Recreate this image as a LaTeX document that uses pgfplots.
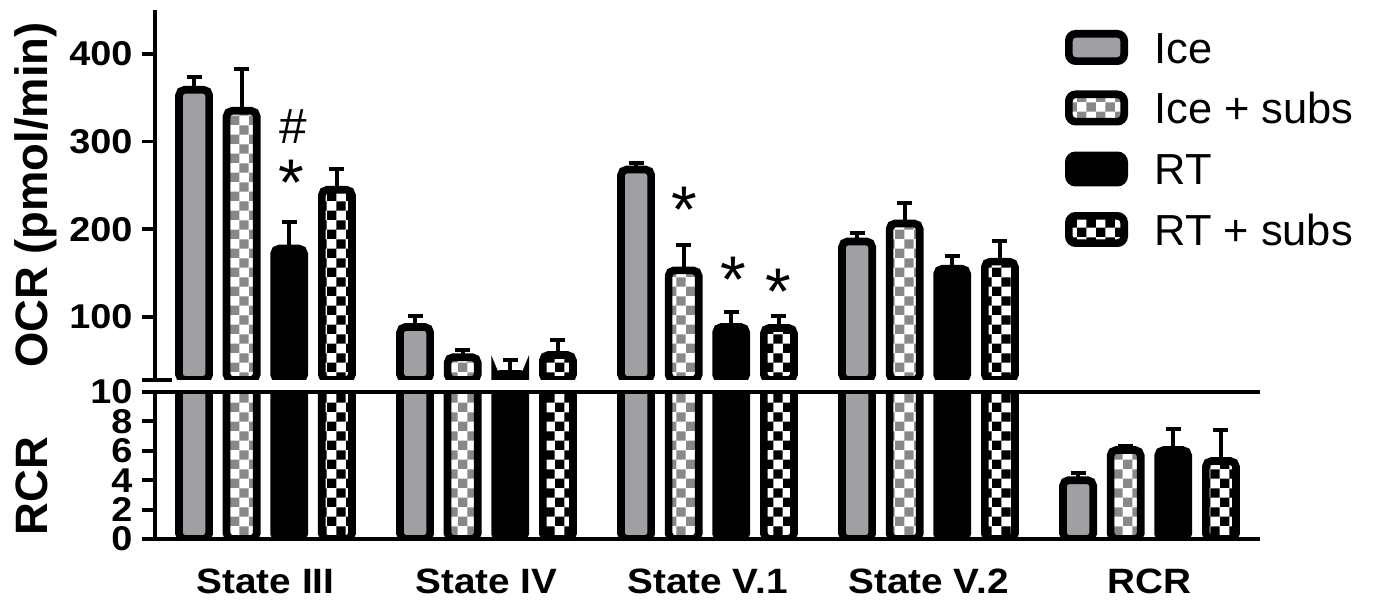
\documentclass[border=0pt]{standalone}
\usepackage{pgfplots}
\pgfplotsset{compat=1.18}
\usepackage{pgfplotstable}
\usetikzlibrary{patterns}
\usepackage{fontspec}
\setmainfont{Liberation Sans}
\newfontfamily\stretchfont{Liberation Sans}[FakeStretch=1.1]

\definecolor{icegray}{RGB}{160,160,164}
\definecolor{chkgray}{RGB}{136,136,136}

\pgfdeclarepatternformonly{chk}{\pgfpointorigin}{\pgfqpoint{7pt}{7pt}}{\pgfqpoint{7pt}{7pt}}{%
  \pgfpathrectangle{\pgfpointorigin}{\pgfqpoint{3.5pt}{3.5pt}}%
  \pgfpathrectangle{\pgfqpoint{3.5pt}{3.5pt}}{\pgfqpoint{3.5pt}{3.5pt}}%
  \pgfusepath{fill}}

% x: 0 State III, 1 State IV, 2 State V.1, 3 State V.2 (OCR, pmol/min), 4 RCR (ratio)
\pgfplotstableread{
x y e
0 359 14
1 88.5 12.5
2 268 7
3 186 10
4 4.0 0.5
}\tIce
\pgfplotstableread{
x y e
0 335 48
1 54 8
2 153 29
3 206.5 23
4 6.05 0.27
}\tIceSubs
\pgfplotstableread{
x y e
0 178 30
1 35 16
2 88.5 17
3 155 14
4 6.05 1.45
}\tRT
\pgfplotstableread{
x y e
0 245 24
1 56.5 17
2 87.4 14
3 163 23
4 5.3 2.1
}\tRTSubs

\tikzset{
  fIce/.style={draw=black, fill=icegray, line width=2.8pt},
  fIceSubs/.style={draw=black, pattern=chk, pattern color=chkgray, line width=2.8pt},
  fRT/.style={draw=black, fill=black, line width=2.8pt},
  fRTSubs/.style={draw=black, pattern=chk, pattern color=black, line width=2.8pt},
}

\pgfplotsset{
  barcommon/.style={ybar, bar width=0.136, clip=true,
    error bars/y dir=plus, error bars/y explicit,
    error bars/error bar style={line width=1.4pt, black, rounded corners=0pt},
    error bars/error mark options={rotate=90, mark size=2.75pt, line width=1.45pt, black},
    /pgf/number format/assume math mode=true,
    tick align=outside, major tick length=4.7pt,
    ytick style={line width=1.45pt, black},
    yticklabel style={font=\stretchfont\bfseries\fontsize{12.5}{14}\selectfont, inner sep=0pt, xshift=-3.3pt},
    axis line style={line width=1.8pt, -},
  },
  sIce/.style={fIce, rounded corners=2pt},
  sIceSubs/.style={fIceSubs, rounded corners=2pt},
  sRT/.style={fRT, rounded corners=2pt},
  sRTSubs/.style={fRTSubs, rounded corners=2pt},
}

\begin{document}
\begin{tikzpicture}
\path[use as bounding box] (0pt,0pt) rectangle (500.36pt,218.91pt);

% upper panel (OCR)
\begin{axis}[barcommon,
  at={(56.36pt,80.73pt)}, anchor=south west, scale only axis,
  width=401.82pt, height=134.55pt,
  xmin=-0.5, xmax=4.5, ymin=28, ymax=450,
  axis x line=none, axis y line*=left,
  ytick={100,200,300,400},
  restrict x to domain=-0.5:3.5,
]
\addplot[sIce, bar shift=-0.323] table[x=x, y=y, y error=e] {\tIce};
\addplot[sIceSubs, bar shift=-0.108] table[x=x, y=y, y error=e] {\tIceSubs};
\addplot[sRT, bar shift=0.107] table[x=x, y=y, y error=e] {\tRT};
\addplot[sRTSubs, bar shift=0.323] table[x=x, y=y, y error=e] {\tRTSubs};
\node[anchor=base, font=\fontsize{18}{20}\selectfont, inner sep=0pt] at ([yshift=-6.3pt]axis cs:0.127,317) {\#};
\node[anchor=base, font=\fontsize{24}{26}\selectfont, inner sep=0pt] at ([yshift=-12pt]axis cs:0.115,265) {*};
\node[anchor=base, font=\fontsize{24}{26}\selectfont, inner sep=0pt] at ([yshift=-12pt]axis cs:1.894,234) {*};
\node[anchor=base, font=\fontsize{24}{26}\selectfont, inner sep=0pt] at ([yshift=-12pt]axis cs:2.118,154) {*};
\node[anchor=base, font=\fontsize{24}{26}\selectfont, inner sep=0pt] at ([yshift=-12pt]axis cs:2.321,140) {*};
\end{axis}

% lower panel (RCR)
\begin{axis}[barcommon,
  at={(56.36pt,22.91pt)}, anchor=south west, scale only axis,
  width=401.82pt, height=53.45pt,
  xmin=-0.5, xmax=4.5, ymin=0, ymax=10,
  axis x line*=bottom, axis y line*=left,
  ytick={0,2,4,6,8,10},
  xtick={0,1,2,3,4},
  xticklabels={State III, State IV, State V.1, State V.2, RCR},
  xtick style={draw=none, /pgfplots/major tick length=0pt},
  xticklabel style={font=\stretchfont\bfseries\fontsize{12.8}{15}\selectfont, inner sep=0pt, yshift=-5.8pt},
  axis on top,
]
\addplot[sIce, bar shift=-0.323] table[x=x, y=y, y error=e] {\tIce};
\addplot[sIceSubs, bar shift=-0.108] table[x=x, y=y, y error=e] {\tIceSubs};
\addplot[sRT, bar shift=0.107] table[x=x, y=y, y error=e] {\tRT};
\addplot[sRTSubs, bar shift=0.323] table[x=x, y=y, y error=e] {\tRTSubs};
\end{axis}

% axis break marker and top line of the lower panel
\draw[line width=1.45pt] (51.66pt,80.73pt) -- (62.5pt,80.73pt);
\draw[line width=1.3pt] (56.36pt,76.36pt) -- (458.18pt,76.36pt);

% legend
\begin{scope}[rounded corners=2.5pt]
\draw[fIce]     (388.67pt,196.68pt) rectangle (408.78pt,206.60pt);
\draw[fIceSubs] (388.67pt,174.68pt) rectangle (408.78pt,184.60pt);
\draw[fRT]      (388.67pt,152.49pt) rectangle (408.78pt,162.41pt);
\draw[fRTSubs]  (388.67pt,130.49pt) rectangle (408.78pt,140.41pt);
\end{scope}
\begin{scope}[every node/.style={anchor=base west, inner sep=0pt, font=\fontsize{15.8}{17}\selectfont}]
\node at (419.6pt,195.98pt) {Ice};
\node at (419.6pt,173.98pt) {Ice + subs};
\node at (419.6pt,151.79pt) {RT};
\node at (419.6pt,129.79pt) {RT + subs};
\end{scope}

% y-axis titles
\node[rotate=90, anchor=base, inner sep=0pt, font=\bfseries\fontsize{16.5}{18}\selectfont] at (17.1pt,148pt) {OCR (pmol/min)};
\node[rotate=90, anchor=base, inner sep=0pt, font=\bfseries\fontsize{16.5}{18}\selectfont] at (17.1pt,42.2pt) {RCR};
\end{tikzpicture}
\end{document}
